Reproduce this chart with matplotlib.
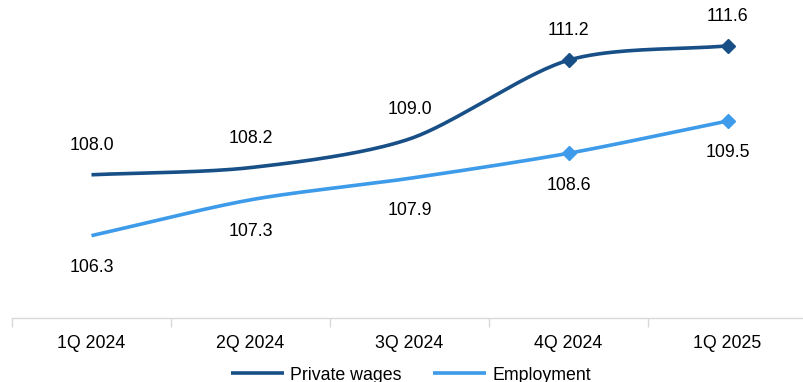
import numpy as np
import matplotlib.pyplot as plt

plt.rcParams['font.family'] = ['Liberation Sans', 'DejaVu Sans']

# data
quarters = ['1Q 2024', '2Q 2024', '3Q 2024', '4Q 2024', '1Q 2025']
wages = [108.0, 108.2, 109.0, 111.2, 111.6]
employment = [106.3, 107.3, 107.9, 108.6, 109.5]

dark = '#174f86'
light = '#3d9be9'


def smooth(xs, ys, n=40):
    # catmull-rom spline, like excel's smoothed line
    xs = np.asarray(xs, float)
    ys = np.asarray(ys, float)
    px = np.concatenate([[2 * xs[0] - xs[1]], xs, [2 * xs[-1] - xs[-2]]])
    py = np.concatenate([[2 * ys[0] - ys[1]], ys, [2 * ys[-1] - ys[-2]]])
    ox, oy = [], []
    t = np.linspace(0, 1, n)
    for i in range(1, len(px) - 2):
        for p, o in ((px, ox), (py, oy)):
            p0, p1, p2, p3 = p[i - 1], p[i], p[i + 1], p[i + 2]
            m1 = (p2 - p0) / 2 * 0.85
            m2 = (p3 - p1) / 2 * 0.85
            h00 = 2 * t**3 - 3 * t**2 + 1
            h10 = t**3 - 2 * t**2 + t
            h01 = -2 * t**3 + 3 * t**2
            h11 = t**3 - t**2
            o.extend(h00 * p1 + h10 * m1 + h01 * p2 + h11 * m2)
    return np.array(ox), np.array(oy)


fig = plt.figure(figsize=(8.04, 3.82), dpi=100)
ax = fig.add_axes([12 / 804, 64 / 382, 795 / 804, 318 / 382])

x = np.arange(len(quarters))
sx, sy = smooth(x, wages)
ax.plot(sx, sy, color=dark, lw=2.6, solid_capstyle='butt', label='Private wages')
ax.plot(x[3:], wages[3:], ls='none', marker='D', ms=7, color=dark)
sx, sy = smooth(x, employment)
ax.plot(sx, sy, color=light, lw=2.6, solid_capstyle='butt', label='Employment')
ax.plot(x[3:], employment[3:], ls='none', marker='D', ms=7, color=light)

for i, v in enumerate(wages):
    ax.annotate(f'{v:.1f}', (i, v), xytext=(0, 21), textcoords='offset points',
                ha='center', va='center', fontsize=12.8)
for i, v in enumerate(employment):
    ax.annotate(f'{v:.1f}', (i, v), xytext=(0, -23), textcoords='offset points',
                ha='center', va='center', fontsize=12.8)

ax.set_xlim(-0.5, 4.5)
ax.set_ylim(104.0, 112.88)
ax.set_yticks([])
ax.set_xticks(x)
ax.set_xticklabels(quarters, fontsize=12.8)
ax.set_xticks(np.arange(-0.5, 5, 1), minor=True)
ax.tick_params(axis='x', which='major', length=0, pad=12)
ax.tick_params(axis='x', which='minor', length=6.5, color='#d9d9d9', width=1)
for s in ['top', 'right', 'left']:
    ax.spines[s].set_visible(False)
ax.spines['bottom'].set_color('#d9d9d9')
ax.spines['bottom'].set_linewidth(1)

fig.legend(loc='center', bbox_to_anchor=(411 / 804, 1 - 375 / 382), ncol=2,
           frameon=False, fontsize=12.8, handlelength=3.0, handletextpad=0.35,
           columnspacing=1.75, borderpad=0)

fig.savefig('out.png', dpi=100)
